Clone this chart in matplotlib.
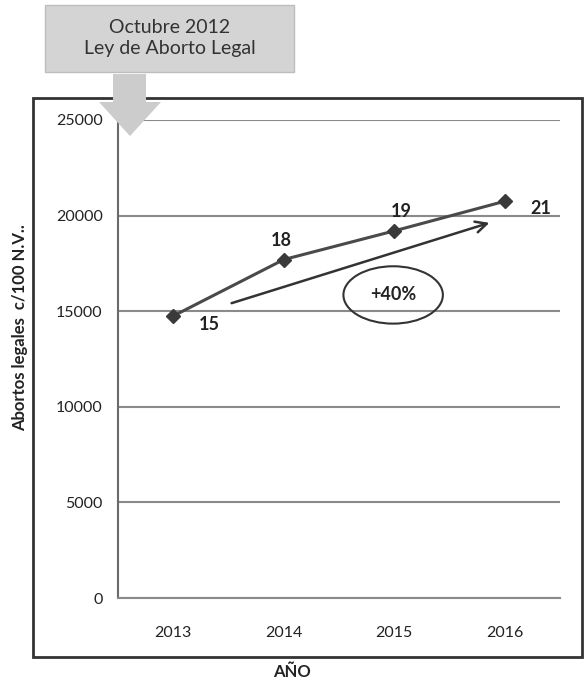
import matplotlib
matplotlib.use("Agg")
import matplotlib.pyplot as plt
from matplotlib.patches import Rectangle, Ellipse, Polygon

plt.rcParams['font.family'] = ['Lato', 'DejaVu Sans']

years = ["2013", "2014", "2015", "2016"]
values = [14750, 17700, 19200, 20750]
labels = ["15", "18", "19", "21"]
yticks = [0, 5000, 10000, 15000, 20000, 25000]
label_offsets = [(26, -6), (-2, 14), (5, 14), (26, -5)]

fig = plt.figure(figsize=(5.85, 6.84), dpi=100)
W, H = 585, 684

def fx(px):
    return px / W

def fy(py):
    return 1 - py / H

ax = fig.add_axes([fx(118), fy(598), fx(560) - fx(118), fy(120) - fy(598)])
x = list(range(len(years)))
ax.plot(x, values, color='#4a4a4a', lw=2.2, marker='D', ms=7, mfc='#3a3a3a', mec='#3a3a3a', zorder=3)
for xi, v, lab, off in zip(x, values, labels, label_offsets):
    ax.annotate(lab, (xi, v), xytext=off, textcoords='offset points', ha='center', va='center',
                fontsize=13, fontweight='bold', color='#222222')

ax.set_xlim(-0.5, 3.5)
ax.set_ylim(0, 25000)
ax.set_yticks(yticks)
ax.set_yticklabels([str(t) for t in yticks], fontsize=11.5, color='#222222')
ax.set_xticks(x)
ax.set_xticklabels(years, fontsize=11.5, color='#222222')
ax.tick_params(axis='y', length=0, pad=11)
ax.tick_params(axis='x', length=0, pad=20)
ax.yaxis.grid(True, color='#8a8a8a', lw=1.5)
ax.set_axisbelow(True)
for s in ['top', 'right']:
    ax.spines[s].set_visible(False)
ax.spines['left'].set_color('#6a6a6a')
ax.spines['left'].set_linewidth(1.5)
ax.spines['bottom'].set_color('#8a8a8a')
ax.spines['bottom'].set_linewidth(1.5)

# trend arrow
ax.annotate('', xy=(2.885, 19665), xytext=(0.504, 15377),
            arrowprops=dict(arrowstyle='->', color='#333333', lw=1.8, mutation_scale=20))
ax.add_patch(Ellipse((1.99, 15850), 0.9, 3000, fill=False, ec='#333333', lw=1.5))
ax.text(1.99, 15850, '+40%', ha='center', va='center', fontsize=13, fontweight='bold', color='#222222')

fig.text(fx(292), fy(672), 'AÑO', ha='center', va='center', fontsize=12, fontweight='bold', color='#222222')
fig.text(fx(20), fy(328), 'Abortos legales  c/100 N.V..', ha='center', va='center', rotation=90,
         fontsize=12, fontweight='bold', color='#222222')

# outer chart border
fig.patches.append(Rectangle((fx(33), fy(657)), fx(582) - fx(33), fy(98) - fy(657),
                             transform=fig.transFigure, fill=False, ec='#333333', lw=2, zorder=1))

# top annotation box
fig.patches.append(Rectangle((fx(45), fy(72)), fx(294) - fx(45), fy(5) - fy(72),
                             transform=fig.transFigure, fc='#d4d4d4', ec='#bdbdbd', lw=1, zorder=2))
fig.text(fx(170), fy(38), 'Octubre 2012\nLey de Aborto Legal', ha='center', va='center',
         fontsize=14, color='#333333', linespacing=1.3, zorder=5)

# block arrow
arrow_pts = [(113, 74), (146, 74), (146, 102), (161, 102), (130, 136), (99, 102), (113, 102)]
fig.patches.append(Polygon([(fx(a), fy(b)) for a, b in arrow_pts], closed=True,
                           transform=fig.transFigure, fc='#cccccc', ec='none', zorder=6))

fig.savefig('out.png', dpi=100)
